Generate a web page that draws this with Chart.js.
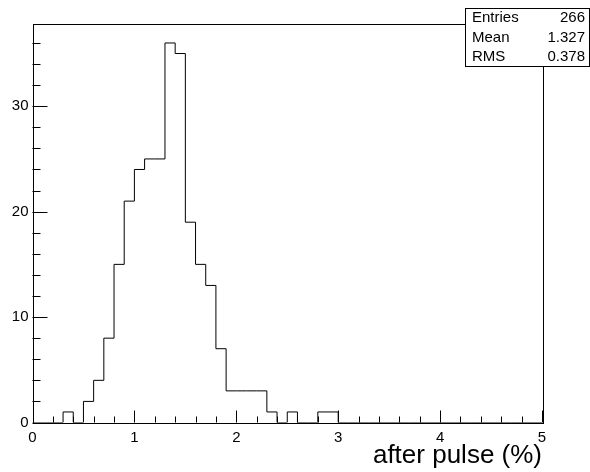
<!DOCTYPE html>
<html>
<head>
<meta charset="utf-8">
<script src="https://cdn.jsdelivr.net/npm/chart.js@4/dist/chart.umd.min.js"></script>
<style>
  html, body { margin: 0; padding: 0; background: #fff; }
  canvas { display: block; }
</style>
</head>
<body>
<canvas id="myChart" width="590" height="472"></canvas>
<script>
// histogram: 50 bins from 0 to 5
const xMin = 0
const xMax = 5
const counts = [
  0, 0, 0, 1, 0, 2, 4, 8, 15, 21,
  24, 25, 25, 36, 35, 19, 15, 13, 7, 3,
  3, 3, 3, 1, 0, 1, 0, 0, 1, 1,
  0, 0, 0, 0, 0, 0, 0, 0, 0, 0,
  0, 0, 0, 0, 0, 0, 0, 0, 0, 0
]
const xTickLabels = [0, 1, 2, 3, 4, 5]
const yTickLabels = [0, 10, 20, 30]
const statNames = ['Entries', 'Mean', 'RMS']
const statValues = ['266', '1.327', '0.378']

const FONT = "'Liberation Sans', Arial, Helvetica, sans-serif"
const binWidth = (xMax - xMin) / counts.length

// points on bin low edges, plus closing point at xMax
let points = counts.map((c, i) => ({ x: xMin + i * binWidth, y: c }))
points.push({ x: xMax, y: counts[counts.length - 1] })

const yMax = Math.max(...counts) * 1.05

function isMultiple(v, step) {
  return Math.abs(v / step - Math.round(v / step)) < 1e-6
}

// ROOT-like frame, inner ticks and stats box
const rootStyle = {
  id: 'rootStyle',
  afterDatasetsDraw(chart) {
    const ctx = chart.ctx
    const a = chart.chartArea
    const xs = chart.scales.x
    const ys = chart.scales.y
    ctx.save()
    ctx.strokeStyle = '#000'
    ctx.lineWidth = 1
    ctx.strokeRect(Math.round(a.left) + 0.5, Math.round(a.top) + 0.5,
      Math.round(a.right - a.left), Math.round(a.bottom - a.top))

    ctx.beginPath()
    xs.ticks.forEach(t => {
      if (!isMultiple(t.value, 0.2)) return
      const px = Math.round(xs.getPixelForValue(t.value)) + 0.5
      const len = xTickLabels.includes(Math.round(t.value * 1e6) / 1e6) ? 12 : 6
      ctx.moveTo(px, a.bottom)
      ctx.lineTo(px, a.bottom - len)
    })
    ys.ticks.forEach(t => {
      if (!isMultiple(t.value, 2)) return
      const py = Math.round(ys.getPixelForValue(t.value)) + 0.5
      const len = yTickLabels.includes(Math.round(t.value)) ? 15 : 8
      ctx.moveTo(a.left, py)
      ctx.lineTo(a.left + len, py)
    })
    ctx.stroke()

    // stats box
    const bx = 465.5, by = 8.5, bw = 124, bh = 58
    ctx.fillStyle = '#fff'
    ctx.fillRect(bx, by, bw, bh)
    ctx.strokeRect(bx, by, bw, bh)
    ctx.fillStyle = '#000'
    ctx.font = '15px ' + FONT
    ctx.textBaseline = 'middle'
    statNames.forEach((n, i) => {
      const ty = by + 9.5 + i * 19.5
      ctx.textAlign = 'left'
      ctx.fillText(n, 472, ty)
      ctx.textAlign = 'right'
      ctx.fillText(statValues[i], 585, ty)
    })
    ctx.restore()
  }
}

const ctx = document.getElementById('myChart')

new Chart(ctx, {
  type: 'line',
  data: {
    datasets: [{
      data: points,
      stepped: 'before',
      borderColor: '#000',
      borderWidth: 1,
      pointRadius: 0,
      fill: false
    }]
  },
  options: {
    responsive: false,
    animation: false,
    plugins: { legend: { display: false }, tooltip: { enabled: false } },
    layout: { padding: { left: 0, top: 24, right: 48, bottom: 0 } },
    scales: {
      x: {
        type: 'linear',
        min: xMin,
        max: xMax,
        grid: { display: false, drawTicks: false },
        border: { display: false },
        ticks: {
          stepSize: 0.2,
          autoSkip: false,
          maxRotation: 0,
          padding: 6,
          color: '#000',
          font: { family: FONT, size: 15 },
          callback: v => xTickLabels.includes(Math.round(v * 1e6) / 1e6) ? String(Math.round(v)) : ''
        },
        title: {
          display: true,
          text: 'after pulse (%)',
          align: 'end',
          color: '#000',
          font: { family: FONT, size: 26 },
          padding: { top: 0, bottom: 1 }
        },
        afterFit: s => { s.height = 49.5 }
      },
      y: {
        min: 0,
        max: yMax,
        grid: { display: false, drawTicks: false },
        border: { display: false },
        ticks: {
          stepSize: 2,
          autoSkip: false,
          padding: 4,
          color: '#000',
          font: { family: FONT, size: 15 },
          callback: v => (isMultiple(v, 10) && yTickLabels.includes(Math.round(v))) ? String(Math.round(v)) : ''
        },
        afterFit: s => { s.width = 32.5 }
      }
    }
  },
  plugins: [rootStyle]
})
</script>
</body>
</html>
